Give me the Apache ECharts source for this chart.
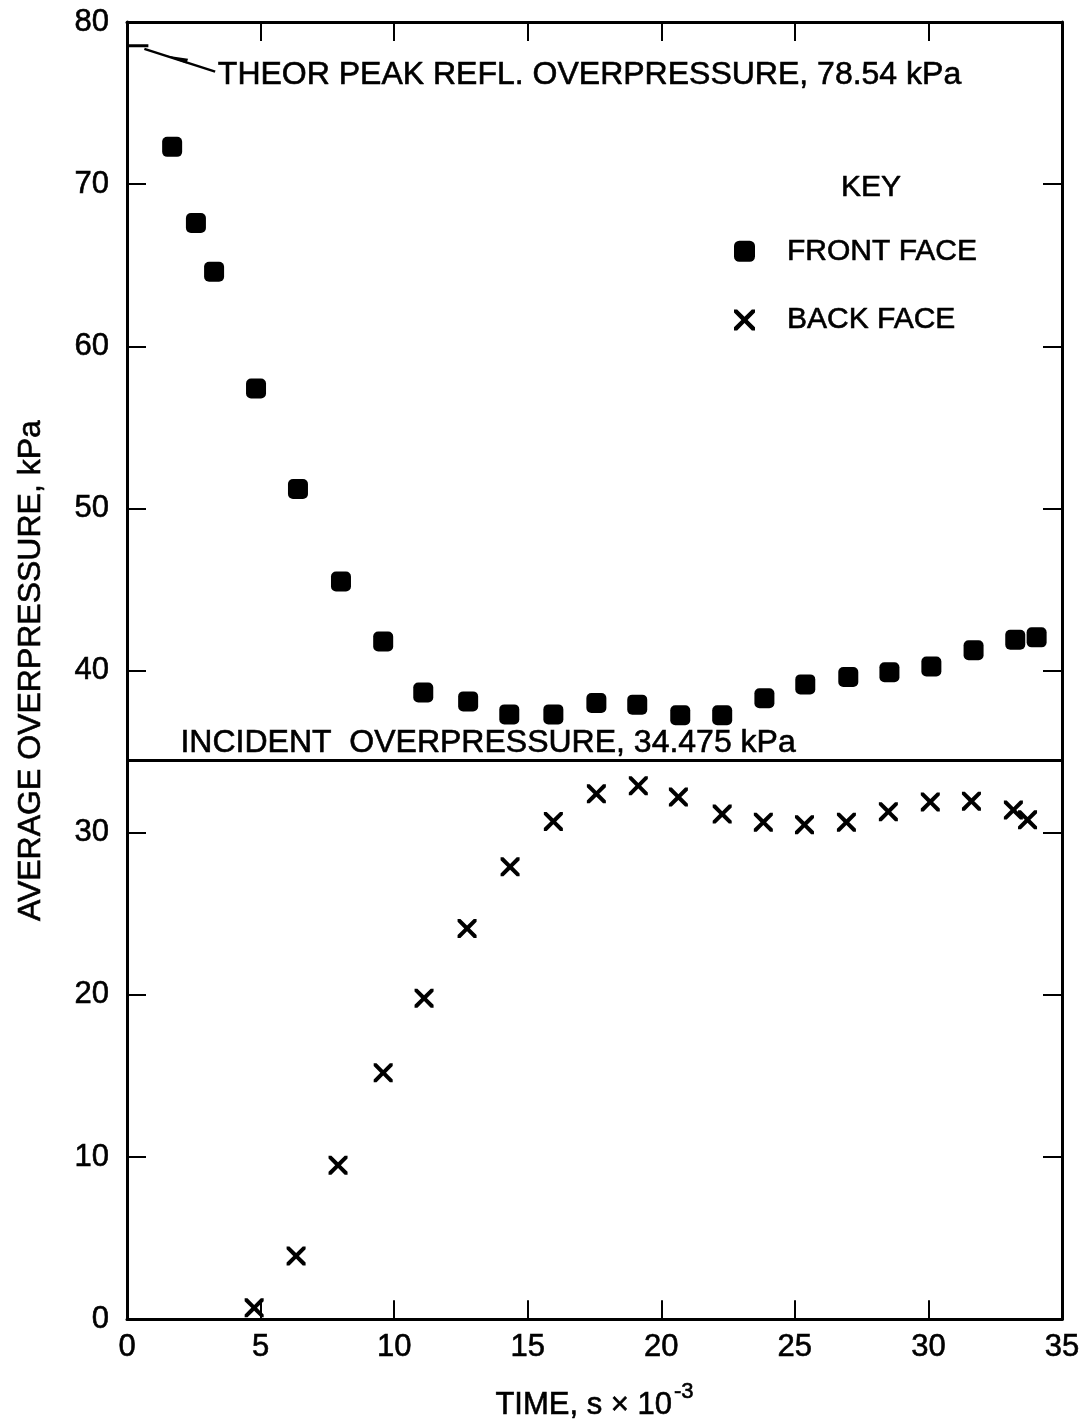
<!DOCTYPE html>
<html>
<head>
<meta charset="utf-8">
<title>Average overpressure</title>
<script src="https://cdn.jsdelivr.net/npm/echarts@6/dist/echarts.min.js"></script>
</head>
<body style="margin:0;background:#fff;">
<div id="main" style="width:1092px;height:1426px;"></div>
<script type="text/javascript">
    // time, s x 10^-3 / average overpressure, kPa
    var frontTime = [1.69, 2.58, 3.26, 4.83, 6.40, 8.01, 9.59, 11.09, 12.77, 14.31, 15.96, 17.57,
        19.10, 20.71, 22.28, 23.86, 25.39, 27.00, 28.54, 30.11, 31.69, 33.25, 34.05];
    var frontValue = [72.3, 67.6, 64.6, 57.4, 51.2, 45.5, 41.8, 38.65, 38.1, 37.3, 37.3, 38.0,
        37.9, 37.25, 37.25, 38.3, 39.15, 39.6, 39.9, 40.25, 41.25, 41.9, 42.05];
    var backTime = [4.76, 6.33, 7.90, 9.59, 11.12, 12.73, 14.34, 15.96, 17.57, 19.14, 20.64, 22.28,
        23.82, 25.36, 26.93, 28.50, 30.07, 31.61, 33.18, 33.71];
    var backValue = [0.7, 3.9, 9.5, 15.2, 19.8, 24.1, 27.9, 30.7, 32.4, 32.9, 32.2, 31.15,
        30.65, 30.5, 30.65, 31.3, 31.9, 31.95, 31.4, 30.8];
    var theorPeak = 78.54;
    var incident = 34.475;

    var font = 'Liberation Sans';
    var chart = echarts.init(document.getElementById('main'));

    function pairs(xs, ys) {
        var out = [];
        for (var i = 0; i < xs.length; i++) {
            out.push([xs[i], ys[i]]);
        }
        return out;
    }

    // slightly heavier text, like the original lettering
    function txt(size, extra) {
        return Object.assign({
            fontFamily: font, fontSize: size, color: '#000',
            textBorderColor: '#000', textBorderWidth: 0.6
        }, extra || {});
    }

    var lineBlack = {color: '#000', width: 3};
    var tickBlack = {color: '#000', width: 2};

    var xBase = {
        type: 'value', min: 0, max: 35, interval: 5,
        axisLine: {show: true, onZero: false, lineStyle: lineBlack},
        axisTick: {show: true, inside: true, length: 19, lineStyle: tickBlack},
        splitLine: {show: false}
    };
    var yBase = {
        type: 'value', min: 0, max: 80, interval: 10,
        axisLine: {show: true, onZero: false, lineStyle: lineBlack},
        axisTick: {show: true, inside: true, length: 19, lineStyle: tickBlack},
        splitLine: {show: false}
    };

    var xSymbol = 'path://M0,0L3,0L10,7L17,0L20,0L20,3L13,10L20,17L20,20L17,20L10,13L3,20L0,20L0,17L7,10L0,3Z';

    option = {
        animation: false,
        backgroundColor: '#fff',
        grid: {left: 127, right: 30, top: 22, bottom: 102},
        legend: {
            data: ['FRONT FACE', 'BACK FACE'],
            orient: 'vertical',
            left: 729,
            top: 231,
            itemWidth: 21,
            itemHeight: 21,
            itemGap: 38,
            textStyle: txt(30, {lineHeight: 30, padding: [0, 0, 0, 27]})
        },
        xAxis: [
            Object.assign({}, xBase, {
                position: 'bottom',
                axisLabel: txt(31, {margin: 13}),
                name: 'TIME, s \u00d7 10{sup|-3}',
                nameLocation: 'middle',
                nameGap: 62,
                nameTextStyle: txt(31, {
                    rich: {sup: txt(22, {verticalAlign: 'top', padding: [0, 0, 26, 2]})}
                })
            }),
            Object.assign({}, xBase, {position: 'top', axisLabel: {show: false}})
        ],
        yAxis: [
            Object.assign({}, yBase, {
                position: 'left',
                axisLabel: txt(31, {margin: 18}),
                name: 'AVERAGE OVERPRESSURE, kPa',
                nameLocation: 'middle',
                nameGap: 80,
                nameTextStyle: txt(32)
            }),
            Object.assign({}, yBase, {position: 'right', axisLabel: {show: false}})
        ],
        series: [
            {
                name: 'FRONT FACE',
                type: 'scatter',
                symbol: 'roundRect',
                symbolSize: 20,
                itemStyle: {color: '#000', opacity: 1},
                data: pairs(frontTime, frontValue)
            },
            {
                name: 'BACK FACE',
                type: 'scatter',
                symbol: xSymbol,
                symbolSize: 19,
                itemStyle: {color: '#000', opacity: 1},
                data: pairs(backTime, backValue)
            },
            {
                name: 'incident',
                type: 'line',
                data: [],
                markLine: {
                    silent: true,
                    symbol: 'none',
                    label: {show: false},
                    lineStyle: {color: '#000', width: 3, type: 'solid'},
                    data: [{yAxis: incident}]
                }
            },
            {
                name: 'theor',
                type: 'line',
                symbol: 'none',
                lineStyle: {color: '#000', width: 3},
                data: [[0, theorPeak], [0.8, theorPeak]]
            },
            {
                name: 'leader',
                type: 'line',
                symbol: 'none',
                lineStyle: {color: '#000', width: 2.5},
                data: [[0.65, theorPeak - 0.2], [3.3, theorPeak - 1.6]]
            }
        ]
    };

    chart.setOption(option);

    function px(x, y) {
        return chart.convertToPixel({gridIndex: 0}, [x, y]);
    }

    var pTheor = px(3.4, 76.75);
    var pInc = px(2.0, 35.5);
    var pKey = px(27.85, 69.8);

    // small arrow head partway along the leader
    var a0 = px(0.65, theorPeak - 0.2);
    var a1 = px(3.3, theorPeak - 1.6);
    function along(t, off) {
        var dx = a1[0] - a0[0], dy = a1[1] - a0[1];
        var len = Math.sqrt(dx * dx + dy * dy);
        return [a0[0] + dx * t - dy / len * off, a0[1] + dy * t + dx / len * off];
    }

    var gText = {fontFamily: font, fill: '#000', stroke: '#000', lineWidth: 0.6, verticalAlign: 'middle'};

    chart.setOption({
        graphic: [
            {
                type: 'polygon',
                shape: {points: [along(0.28, 0), along(0.6, -4), along(0.6, 1)]},
                style: {fill: '#000'}
            },
            {
                type: 'text', x: pTheor[0], y: pTheor[1],
                style: Object.assign({text: 'THEOR PEAK REFL. OVERPRESSURE, 78.54 kPa', fontSize: 32, align: 'left'}, gText)
            },
            {
                type: 'text', x: pInc[0], y: pInc[1],
                style: Object.assign({text: 'INCIDENT  OVERPRESSURE, 34.475 kPa', fontSize: 32, align: 'left'}, gText)
            },
            {
                type: 'text', x: pKey[0], y: pKey[1],
                style: Object.assign({text: 'KEY', fontSize: 30, align: 'center'}, gText)
            }
        ]
    });
</script>
</body>
</html>
